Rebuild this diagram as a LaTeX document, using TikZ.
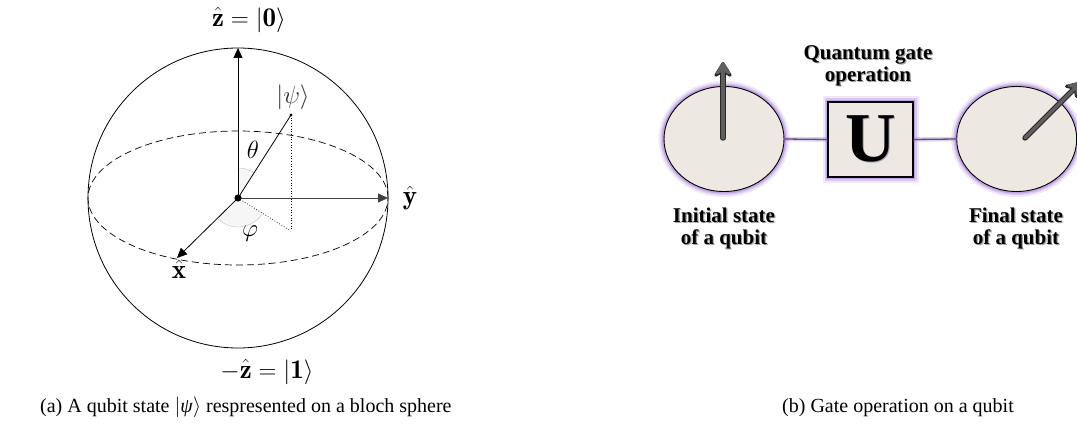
\documentclass[tikz,border=0pt]{standalone}
\usepackage{fontspec}
\usepackage{amsmath}
\newfontfamily\capfont{Liberation Serif}
\usetikzlibrary{arrows.meta,shapes.geometric,calc}
\definecolor{beige}{RGB}{237,233,226}
\definecolor{glowc}{RGB}{165,125,215}
\definecolor{wirec}{RGB}{95,75,125}
\definecolor{spinc}{RGB}{95,95,95}
\definecolor{spinout}{RGB}{40,40,40}
\definecolor{arcc}{RGB}{205,205,205}
\definecolor{arcfillc}{RGB}{246,246,246}
\newcommand{\shtxt}[1]{\makebox[0pt][l]{\hspace{1.2pt}\raisebox{-1.2pt}{\color{black!35}#1}}#1}
\begin{document}
\begin{tikzpicture}[x=1pt,y=1pt,
  axisarrow/.style={line width=0.8pt,-{Triangle[length=10pt,width=9pt]}},
  eqline/.style={line width=0.7pt,dash pattern=on 7pt off 4pt},
  mathlbl/.style={font=\fontsize{27}{27}\selectfont,inner sep=0pt},
  anglbl/.style={font=\fontsize{25}{25}\selectfont,inner sep=0pt},
  arcfill/.style={fill=arcfillc},
  arcline/.style={draw=arcc,line width=0.6pt},
  glow/.style={preaction={draw=glowc,draw opacity=0.18,line width=11pt},
               preaction={draw=glowc,draw opacity=0.3,line width=7pt},
               preaction={draw=glowc,draw opacity=0.5,line width=4pt}},
  qubit/.style={ellipse,draw=black,line width=0.9pt,fill=beige,minimum width=120pt,minimum height=105pt,inner sep=0pt,glow},
  gatebox/.style={rectangle,draw=black,line width=1.1pt,fill=beige,minimum width=85pt,minimum height=75pt,inner sep=0pt,glow,
     font=\capfont\bfseries\fontsize{70}{70}\selectfont},
  wire/.style={draw=wirec,line width=1.3pt,preaction={draw=glowc,draw opacity=0.35,line width=4.5pt}},
  spin/.style={draw=spinc,line width=3.4pt,line cap=round,-{Stealth[length=16pt,width=19pt,inset=6pt,round]},
     preaction={draw=spinout,line width=5.4pt,line cap=round,-{Stealth[length=19pt,width=23pt,inset=7pt,round]}}},
  boldlbl/.style={font=\capfont\bfseries\fontsize{21}{22}\selectfont,align=center,inner sep=0pt},
  caption/.style={font=\capfont\fontsize{20}{20}\selectfont,inner sep=0pt,anchor=base west}
]
\useasboundingbox (0,0) rectangle (1077,-428);

% ---------------- Bloch sphere ----------------
\coordinate (O) at (238,-198);
\coordinate (zt) at (238,-48);
\coordinate (yt) at (388,-198);
\coordinate (xt) at (177,-258);
\coordinate (psi) at (291,-115);
\coordinate (proj) at (291,-231);

\draw[line width=0.8pt] (O) circle (150);
\draw[eqline] (O) ellipse [x radius=150, y radius=67];

\fill[arcfill] (O) -- ++(57.4:30) arc[start angle=57.4,end angle=90,radius=30] -- cycle;
\draw[arcline] ($(O)+(57.4:30)$) arc[start angle=57.4,end angle=90,radius=30];
\fill[arcfill] (O) -- ++(224.5:29) arc[start angle=224.5,end angle=328,radius=29] -- cycle;
\draw[arcline] ($(O)+(224.5:29)$) arc[start angle=224.5,end angle=328,radius=29];

\draw[line width=0.7pt,dotted] (psi) -- (proj);
\draw[line width=0.7pt,dotted] (O) -- (proj);
\draw[axisarrow] (O) -- (zt);
\draw[axisarrow,draw=black!75,fill=black!75] (O) -- (yt);
\draw[axisarrow] (O) -- (xt);
\draw[line width=0.8pt] (O) -- (psi);
\fill (psi) circle (1.6);
\fill (O) circle (3.6);

\node[mathlbl] (lz) at (249,-20) {$\hat{\mathbf{z}}=|\mathbf{0}\rangle$};
\node[mathlbl] (lmz) at (267,-372) {$-\hat{\mathbf{z}}=|\mathbf{1}\rangle$};
\node[mathlbl] (ly) at (410,-198) {$\hat{\mathbf{y}}$};
\node[mathlbl] (lx) at (179,-269) {$\hat{\mathbf{x}}$};
\node[anglbl,text=black!80] (lpsi) at (293,-97) {$|\psi\rangle$};
\node[anglbl] (ltheta) at (253,-150) {$\theta$};
\node[anglbl] (lphi) at (250,-234) {$\varphi$};

% ---------------- Gate operation ----------------
\node[qubit] (init) at (724,-139) {};
\node[gatebox] (gate) at (870.5,-139.5) {\shtxt{U}};
\node[qubit] (final) at (1016.7,-139) {};
\draw[wire] (init.east) -- (gate.west);
\draw[wire] (gate.east) -- (final.west);
\coordinate (initbase) at (723,-138);
\coordinate (inittip) at (723,-62);
\coordinate (finalbase) at (1025,-138);
\coordinate (finaltip) at (1081,-82);
\draw[spin] (initbase) -- (inittip);
\draw[spin] (finalbase) -- (finaltip);

\node[boldlbl] (lgate) at (868,-66) {\shtxt{Quantum gate}\\\shtxt{operation}};
\node[boldlbl] (linit) at (724,-229) {\shtxt{Initial state}\\\shtxt{of a qubit}};
\node[boldlbl] (lfinal) at (1016,-229) {\shtxt{Final state}\\\shtxt{of a qubit}};

% ---------------- Captions ----------------
\node[caption] (capa) at (40,-412) {(a) A qubit state $|$\textit{ψ}$\rangle$ respresented on a bloch sphere};
\node[caption] (capb) at (782,-412) {(b) Gate operation on a qubit};
\end{tikzpicture}
\end{document}
